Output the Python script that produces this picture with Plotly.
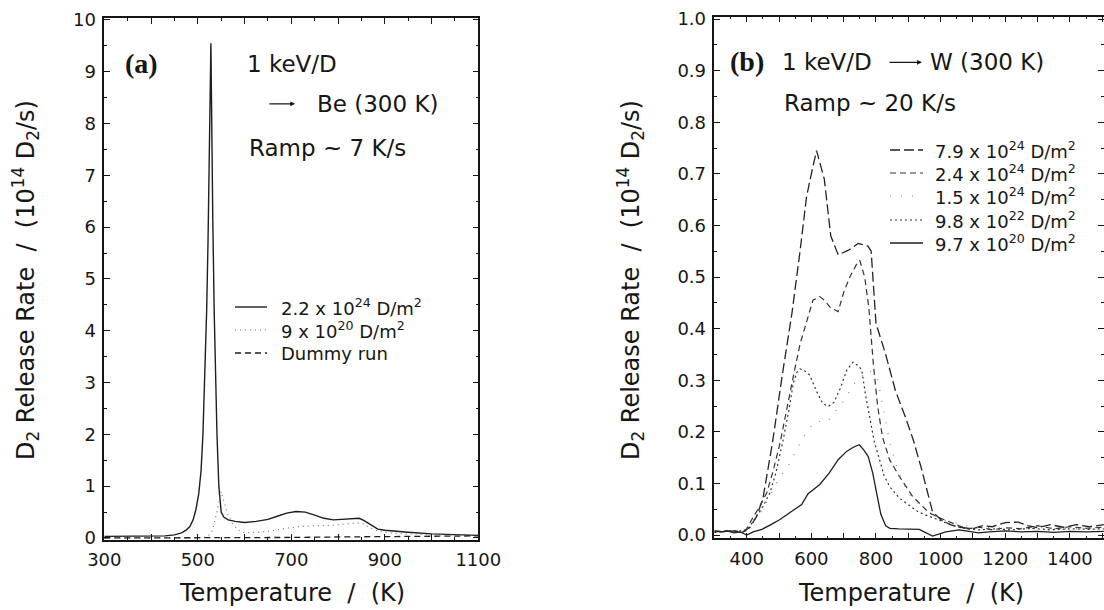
import plotly.graph_objects as go

W, H = 1104, 610
SANS = "DejaVu Sans"
SERIF = "Liberation Serif"
INK = "#161616"

# ---------------- (a) Be, 1 keV/D, ramp ~7 K/s ----------------
be_hi_T = [300, 350, 400, 430, 450, 465, 475, 483, 490, 496, 502, 507, 511, 515, 519,
           522, 524.5, 526.5, 528, 530, 532, 535, 538, 541, 545, 550, 556, 565, 580,
           600, 625, 650, 670, 690, 710, 730, 750, 770, 790, 810, 830, 845, 855, 870,
           885, 900, 920, 950, 1000, 1050, 1100]
be_hi_v = [0.03, 0.03, 0.035, 0.04, 0.06, 0.10, 0.15, 0.22, 0.35, 0.55, 0.85, 1.3, 2.0, 3.0, 4.4,
           5.8, 7.0, 8.6, 9.55, 7.5, 6.2, 4.4, 3.0, 2.0, 1.0, 0.5, 0.40, 0.35, 0.32,
           0.30, 0.32, 0.36, 0.42, 0.48, 0.51, 0.50, 0.44, 0.38, 0.35, 0.36, 0.38, 0.38, 0.34, 0.25,
           0.17, 0.15, 0.13, 0.11, 0.08, 0.07, 0.05]

be_lo_T = [300, 400, 500, 520, 530, 537, 543, 550, 556, 563, 572, 585, 600, 630, 660, 690,
           720, 750, 780, 810, 840, 855, 870, 890, 920, 1000, 1100]
be_lo_v = [0.0, 0.0, 0.0, 0.02, 0.12, 0.35, 0.60, 0.90, 0.70, 0.48, 0.30, 0.16, 0.10, 0.11, 0.14, 0.19,
           0.22, 0.24, 0.24, 0.26, 0.29, 0.27, 0.19, 0.12, 0.09, 0.06, 0.05]

dummy_T = [300, 400, 500, 600, 700, 800, 900, 1000, 1100]
dummy_v = [0.0, 0.0, 0.0, 0.005, 0.01, 0.02, 0.03, 0.035, 0.04]

be_labels = ["2.2 x 10<sup>24</sup> D/m<sup>2</sup>",
             "9 x 10<sup>20</sup> D/m<sup>2</sup>",
             "Dummy run"]

# ---------------- (b) W, 1 keV/D, ramp ~20 K/s ----------------
w79_T = [300, 330, 360, 390, 410, 430, 450, 480, 510, 540, 565, 585, 600, 616, 640, 660, 683,
         715, 745, 775, 785, 800, 830, 860, 890, 915, 940, 955, 975, 1000, 1030, 1060, 1100,
         1130, 1160, 1200, 1240, 1270, 1300, 1340, 1380, 1420, 1460, 1505]
w79_v = [0.008, 0.006, 0.008, 0.006, 0.015, 0.035, 0.07, 0.18, 0.31, 0.43, 0.55, 0.655, 0.70, 0.745,
         0.69, 0.58, 0.543, 0.552, 0.565, 0.56, 0.55, 0.41, 0.35, 0.28, 0.23, 0.185, 0.13, 0.094,
         0.045, 0.03, 0.02, 0.015, 0.012, 0.018, 0.016, 0.024, 0.025, 0.018, 0.014, 0.02, 0.015,
         0.02, 0.016, 0.02]

w24_T = [300, 340, 380, 400, 421, 440, 462, 480, 503, 525, 544, 565, 585, 605, 626, 640, 660, 683,
         700, 719, 740, 750, 765, 778, 792, 805, 820, 842, 872, 913, 940, 965, 990, 1016, 1050,
         1080, 1120, 1160, 1200, 1250, 1300, 1350, 1400, 1450, 1505]
w24_v = [0.006, 0.008, 0.005, 0.012, 0.036, 0.055, 0.082, 0.12, 0.178, 0.25, 0.307, 0.37, 0.415,
         0.455, 0.462, 0.455, 0.44, 0.433, 0.47, 0.50, 0.525, 0.532, 0.50, 0.44, 0.33, 0.25, 0.19,
         0.146, 0.114, 0.075, 0.058, 0.043, 0.035, 0.028, 0.02, 0.012, 0.015, 0.01, 0.014, 0.012,
         0.018, 0.012, 0.016, 0.013, 0.015]

w15_T = [300, 400, 450, 500, 534, 575, 610, 650, 700, 740, 780, 806, 842, 870, 900, 950, 1000,
         1100, 1300, 1505]
w15_v = [0.005, 0.01, 0.05, 0.11, 0.14, 0.19, 0.22, 0.22, 0.26, 0.30, 0.32, 0.30, 0.18, 0.12, 0.08,
         0.05, 0.03, 0.015, 0.012, 0.012]

w98_T = [300, 350, 400, 431, 450, 472, 490, 513, 530, 544, 555, 565, 580, 595, 615, 635, 652, 670,
         690, 710, 729, 745, 756, 768, 780, 795, 811, 825, 842, 870, 893, 930, 965, 1000, 1040,
         1080, 1120, 1170, 1220, 1280, 1340, 1400, 1460, 1505]
w98_v = [0.005, 0.008, 0.008, 0.036, 0.055, 0.082, 0.12, 0.185, 0.24, 0.294, 0.315, 0.322, 0.318,
         0.31, 0.28, 0.255, 0.249, 0.257, 0.285, 0.32, 0.335, 0.328, 0.32, 0.27, 0.23, 0.18, 0.146,
         0.115, 0.094, 0.073, 0.062, 0.045, 0.036, 0.028, 0.018, 0.012, 0.01, 0.012, 0.01, 0.013,
         0.01, 0.012, 0.011, 0.012]

w97_T = [300, 320, 340, 360, 380, 400, 420, 447, 475, 503, 535, 570, 590, 606, 626, 655, 683, 709,
         730, 748, 762, 776, 790, 802, 815, 830, 843, 870, 900, 934, 975, 1016, 1057, 1090, 1118,
         1150, 1200, 1250, 1300, 1350, 1400, 1450, 1505]
w97_v = [0.008, 0.006, 0.008, 0.004, 0.006, 0.0, 0.006, 0.011, 0.02, 0.03, 0.044, 0.059, 0.08,
         0.088, 0.098, 0.12, 0.146, 0.162, 0.17, 0.175, 0.165, 0.152, 0.12, 0.081, 0.04, 0.018,
         0.013, 0.012, 0.011, 0.011, -0.002, 0.006, 0.01, 0.006, 0.004, 0.006, 0.008, 0.006, 0.007,
         0.005, 0.007, 0.006, 0.007]

w_labels = ["7.9 x 10<sup>24</sup> D/m<sup>2</sup>",
            "2.4 x 10<sup>24</sup> D/m<sup>2</sup>",
            "1.5 x 10<sup>24</sup> D/m<sup>2</sup>",
            "9.8 x 10<sup>22</sup> D/m<sup>2</sup>",
            "9.7 x 10<sup>20</sup> D/m<sup>2</sup>"]

# tick values
a_xticks = list(range(300, 1101, 100))
a_xlabels = ["300", "", "500", "", "700", "", "900", "", "1100"]
a_yticks = list(range(0, 11))
b_xticks = list(range(300, 1501, 100))
b_xlabels = ["", "400", "", "600", "", "800", "", "1000", "", "1200", "", "1400", ""]
b_yticks = [round(0.1 * i, 1) for i in range(11)]
b_ylabels = [f"{v:.1f}" for v in b_yticks]

fig = go.Figure()


def px_x(p):
    return p / W


def px_y(p):
    return 1 - p / H


# line styles: (dash, colour, width)
be_styles = [("solid", "#1e1e1e", 1.4), ("1px,4px", "#777777", 1.2), ("6px,4px", "#1e1e1e", 1.3)]
w_styles = [("10px,4px", "#222222", 1.3), ("6px,4px", "#333333", 1.2), ("1px,10px", "#888888", 1.2),
            ("2px,3px", "#333333", 1.2), ("solid", "#1e1e1e", 1.3)]

for (tx, ty), name, (dash, col, lw) in zip(
        [(be_hi_T, be_hi_v), (be_lo_T, be_lo_v), (dummy_T, dummy_v)], be_labels, be_styles):
    fig.add_trace(go.Scatter(x=tx, y=ty, name=name, mode="lines", xaxis="x", yaxis="y",
                             showlegend=False, line=dict(color=col, width=lw, dash=dash)))

for (tx, ty), name, (dash, col, lw) in zip(
        [(w79_T, w79_v), (w24_T, w24_v), (w15_T, w15_v), (w98_T, w98_v), (w97_T, w97_v)],
        w_labels, w_styles):
    fig.add_trace(go.Scatter(x=tx, y=ty, name=name, mode="lines", xaxis="x2", yaxis="y2",
                             showlegend=False, line=dict(color=col, width=lw, dash=dash)))

tickfont = dict(family=SANS, size=18, color=INK)
axis_common = dict(showgrid=False, zeroline=False, showline=True, linecolor=INK, linewidth=1.5,
                   ticks="inside", tickcolor=INK, tickwidth=1, ticklen=6, tickfont=tickfont,
                   mirror="ticks", fixedrange=True, automargin=False)

fig.update_layout(
    width=W, height=H, margin=dict(l=0, r=0, t=0, b=0, autoexpand=False),
    paper_bgcolor="white", plot_bgcolor="white", showlegend=False,
    xaxis=dict(axis_common, domain=[px_x(104.3), px_x(478.3)], range=[300, 1100],
               tickvals=a_xticks, ticktext=a_xlabels, anchor="y", ticklabelstandoff=3,
               minor=dict(dtick=50, tick0=300, ticks="inside", ticklen=3, tickcolor=INK)),
    yaxis=dict(axis_common, domain=[px_y(540), px_y(18.3)], range=[-0.039, 10.03],
               tickvals=a_yticks, ticktext=[str(v) for v in a_yticks], anchor="x",
               ticklabelstandoff=3,
               minor=dict(dtick=0.5, tick0=0, ticks="inside", ticklen=3, tickcolor=INK)),
    xaxis2=dict(axis_common, domain=[px_x(714.4), 1.0], range=[300, 1505.5],
                tickvals=b_xticks, ticktext=b_xlabels, anchor="y2", ticklabelstandoff=3,
                minor=dict(dtick=50, tick0=300, ticks="inside", ticklen=3, tickcolor=INK)),
    yaxis2=dict(axis_common, domain=[px_y(538.3), px_y(16.7)], range=[-0.0064, 1.0045],
                tickvals=b_yticks, ticktext=b_ylabels, anchor="x2", ticklabelstandoff=3,
                minor=dict(dtick=0.05, tick0=0, ticks="inside", ticklen=3, tickcolor=INK)),
)

txt = dict(family=SANS, size=23, color=INK)
ann = []
shapes = []

# key boxes: sample line + label for each series
legend_font = dict(family=SANS, size=18, color=INK)


def add_key(labels, styles, x0, x1, xtext, rows):
    for lab, (dash, col, lw), py in zip(labels, styles, rows):
        shapes.append(dict(type="line", xref="paper", yref="paper", x0=px_x(x0), x1=px_x(x1),
                           y0=px_y(py), y1=px_y(py), line=dict(color=col, width=lw, dash=dash)))
        ann.append(dict(x=px_x(xtext), y=px_y(py), xref="paper", yref="paper", text=lab,
                        xanchor="left", yanchor="middle", showarrow=False, font=legend_font))


add_key(be_labels, be_styles, 235, 267, 279, [307, 330, 353])
add_key(w_labels, w_styles, 890, 923, 933, [150, 173, 196, 220, 243])

# panel (a) labels
ann.append(dict(x=378.5, y=9.15, xref="x", yref="y", text="<b>(a)</b>", showarrow=False,
                font=dict(family=SERIF, size=28, color=INK)))
ann.append(dict(x=601, y=9.15, xref="x", yref="y", text="1 keV/D", showarrow=False,
                xanchor="left", font=txt))
ann.append(dict(x=708, y=8.38, ax=650, ay=8.38, xref="x", yref="y", axref="x", ayref="y",
                text="", showarrow=True, arrowhead=2, arrowsize=0.8, arrowwidth=1.2,
                arrowcolor=INK))
ann.append(dict(x=750.7, y=8.38, xref="x", yref="y", text="Be (300 K)", showarrow=False,
                xanchor="left", font=txt))
ann.append(dict(x=605, y=7.53, xref="x", yref="y", text="Ramp ~ 7 K/s", showarrow=False,
                xanchor="left", font=txt))
# panel (b) labels
ann.append(dict(x=400, y=0.918, xref="x2", yref="y2", text="<b>(b)</b>", showarrow=False,
                font=dict(family=SERIF, size=28, color=INK)))
ann.append(dict(x=503, y=0.916, xref="x2", yref="y2", text="1 keV/D", showarrow=False,
                xanchor="left", font=txt))
ann.append(dict(x=942, y=0.916, ax=837, ay=0.916, xref="x2", yref="y2", axref="x2", ayref="y2",
                text="", showarrow=True, arrowhead=2, arrowsize=0.8, arrowwidth=1.2,
                arrowcolor=INK))
ann.append(dict(x=960, y=0.916, xref="x2", yref="y2", text="W (300 K)", showarrow=False,
                xanchor="left", font=txt))
ann.append(dict(x=509, y=0.837, xref="x2", yref="y2", text="Ramp ~ 20 K/s", showarrow=False,
                xanchor="left", font=txt))
# axis titles
title_font = dict(family=SANS, size=24, color=INK)
ytitle = "D<sub>2</sub> Release Rate  /  (10<sup>14</sup> D<sub>2</sub>/s)"
xtitle = "Temperature  /  (K)"
for cx in (25, 630):
    ann.append(dict(x=px_x(cx), y=px_y(280), xref="paper", yref="paper", text=ytitle,
                    xanchor="center", yanchor="middle",
                    textangle=-90, showarrow=False, font=title_font))
for cx in (292, 911):
    ann.append(dict(x=px_x(cx), y=px_y(593), xref="paper", yref="paper", text=xtitle,
                    xanchor="center", yanchor="middle", showarrow=False, font=title_font))
fig.update_layout(annotations=ann, shapes=shapes)

fig.write_html("out.html", config={"displayModeBar": False})
